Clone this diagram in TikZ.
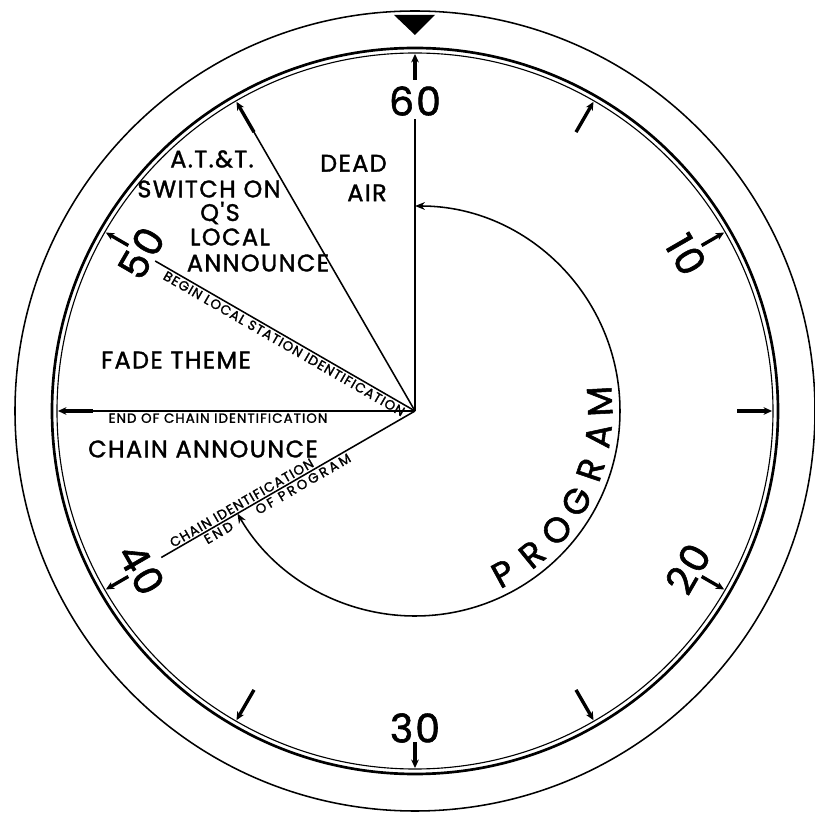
\documentclass[tikz,border=0pt]{standalone}
\usepackage{fontspec}
\setmainfont{Poppins}
\newfontfamily\dialfont[LetterSpace=6,FakeBold=1.5]{Poppins}
\newfontfamily\notefont[LetterSpace=8,FakeBold=1.5]{Poppins}
\usetikzlibrary{arrows.meta}

\begin{document}
\begin{tikzpicture}[
    x=0.025cm, y=0.025cm,
    >={Stealth[length=6pt,width=5.5pt]},
    rim/.style={line width=1.9pt},
    radial/.style={line width=1.1pt},
    tick/.style={line width=2.4pt,->},
    numeral/.style={
        font=\dialfont\fontsize{28}{28}\selectfont,
        inner sep=0pt
    },
    zone/.style={
        font=\dialfont\fontsize{17}{21}\selectfont,
        inner sep=0pt
    },
    note/.style={
        font=\notefont\fontsize{9.5}{9.5}\selectfont,
        inner sep=1.5pt
    },
    arcletter/.style={
        font=\dialfont\fontsize{25}{25}\selectfont,
        inner sep=0pt
    }
]
\useasboundingbox (-415,-403) rectangle (400,411);
\coordinate (hub) at (0,0);

% Dial: outer bezel and double rim
\draw[line width=1.1pt] (hub) circle (400);
\draw[rim] (hub) circle (363);
\draw[line width=0.8pt] (hub) circle (358);

% Start marker
\fill (-21,396) -- (20,396) -- (0,376) -- cycle;

% Five-minute ticks
\foreach \a in {90,30,-30,-90,-150,150}
    \draw[tick] (\a:331) -- (\a:357);
\foreach \a in {60,0,-60,-120,180,120}
    \draw[tick] (\a:322) -- (\a:357);

% Minute numerals
\node[numeral] (n60) at (90:310) {6\kern1.5pt0};
\node[numeral,rotate=-60] (n10) at (30:313) {1\kern1.5pt0};
\node[numeral,rotate=60] (n20) at (-30:315) {2\kern1.5pt0};
\node[numeral] (n30) at (-90:317) {3\kern1.5pt0};
\node[numeral,rotate=-60] (n40) at (210:316) {4\kern1.5pt0};
\node[numeral,rotate=60] (n50) at (150:316) {5\kern1.5pt0};

% Segment boundaries
\draw[radial] (hub) -- (90:292);
\draw[radial] (hub) -- (120:340);
\draw[radial] (hub) -- (150:300);
\draw[radial] (hub) -- (180:326);
\draw[radial] (hub) -- (210:293);

% Program span
\draw[radial,{Stealth[length=7pt,width=5.5pt]}-{Stealth[length=7pt,width=5.5pt]}]
    (90:205) arc[start angle=90, end angle=-150, radius=205];
\foreach \ch [count=\i from 0, evaluate=\i as \ang using -61.5+\i*10.75] in {P,R,O,G,R,A,M}
    \node[arcletter,rotate=\ang+90] (prog\i) at (\ang:185) {\ch};

% Segment names
\node[zone,anchor=east,align=right] (dead) at (-28,233) {DEAD\\AIR};
\node[zone] (att) at (-203,252) {A.T.\&T.};
\node[zone] (switch) at (-206,222) {SWITCH ON};
\node[zone] (qs) at (-195,198) {Q'S};
\node[zone] (local) at (-185,174) {LOCAL};
\node[zone] (announce) at (-157,148) {ANNOUNCE};
\node[zone] (fade) at (-239,51) {FADE THEME};
\node[zone] (chain) at (-212,-38) {CHAIN ANNOUNCE};

% Cues along the boundaries
\node[note,rotate=-30,anchor=north] (localid) at (150:147) {BEGIN LOCAL STATION IDENTIFICATION};
\node[note,anchor=north] (endchain) at (180:197) {END OF CHAIN IDENTIFICATION};
\node[note,rotate=30,anchor=south] (chainid) at (210:196) {CHAIN IDENTIFICATION};
\node[note,rotate=30,anchor=north] (endprog) at (210:163)
    {\addfontfeature{LetterSpace=20}END\hspace{20pt}OF PROGRAM};

\end{tikzpicture}
\end{document}
